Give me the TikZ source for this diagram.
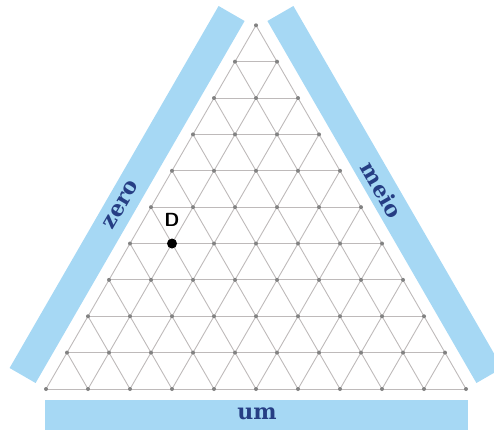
\documentclass[tikz,border=0pt]{standalone}
\usepackage{fontspec}
\newfontfamily\bandfont{DejaVu Serif}
\usetikzlibrary{calc}
\definecolor{bandblue}{RGB}{166,216,244}
\definecolor{textblue}{RGB}{38,62,132}
\definecolor{gridline}{RGB}{190,186,186}
\definecolor{griddot}{RGB}{130,130,130}
\tikzset{
  band/.style={fill=bandblue, draw=none},
  bandtext/.style={text=textblue, font=\bandfont\fontsize{22}{22}\selectfont\bfseries, inner sep=0pt},
  gridl/.style={draw=gridline, line width=0.9pt},
  gdot/.style={fill=griddot},
  dlabel/.style={font=\fontsize{19}{19}\selectfont\sffamily\bfseries, inner sep=0pt}
}
\begin{document}
\begin{tikzpicture}[x=1pt,y=-1pt]
\useasboundingbox (0,0) rectangle (494,434);
% bands
\fill[band] (35.6,383) -- (9.6,368) -- (218.6,6) -- (244.6,21) -- cycle;
\fill[band] (476.4,383) -- (502.4,368) -- (293.4,6) -- (267.4,21) -- cycle;
\fill[band] (45,400) rectangle (468,430);
\node[bandtext, rotate=60] (zero) at (121,205) {zero};
\node[bandtext, rotate=-60] (meio) at (382,190) {meio};
\node[bandtext] (um) at (257,414) {um};
% grid points
\foreach \r in {0,...,10}{
  \foreach \c in {0,...,\r}{
    \coordinate (p-\r-\c) at ({256-21*\r+42*\c},{25.3+36.37*\r});
  }
}
% horizontal lines
\foreach \r in {1,...,10}{
  \draw[gridl] (p-\r-0) -- (p-\r-\r);
}
% lines parallel to left side
\foreach \c in {0,...,9}{
  \draw[gridl] (p-\c-\c) -- (p-10-\c);
}
% lines parallel to right side
\foreach \k in {0,...,9}{
  \pgfmathtruncatemacro{\e}{10-\k}
  \draw[gridl] (p-\k-0) -- (p-10-\e);
}
% dots
\foreach \r in {0,...,10}{
  \foreach \c in {0,...,\r}{
    \fill[gdot] (p-\r-\c) circle (2);
  }
}
% point D
\fill[black] (p-6-1) circle (5);
\node[dlabel] (Dlab) at (172,220) {D};
\end{tikzpicture}
\end{document}
